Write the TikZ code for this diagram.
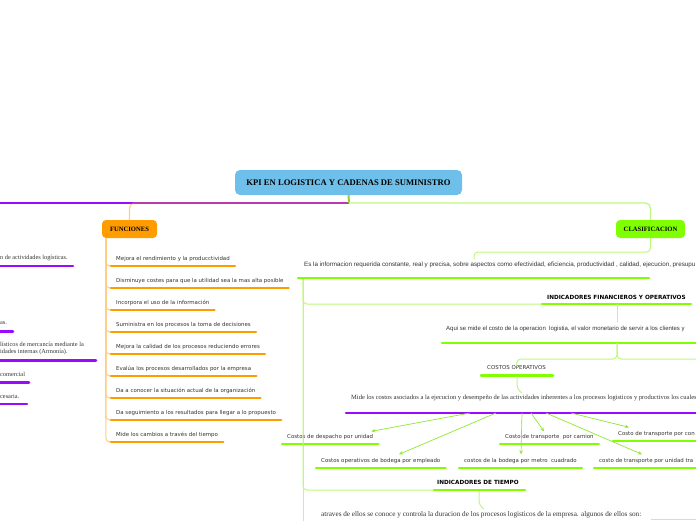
\documentclass[tikz,border=0pt]{standalone}
\usepackage{fontspec}
\setmainfont{Liberation Serif}
\newfontfamily\vfont{DejaVu Sans}
\newfontfamily\afont{Liberation Sans}
\usetikzlibrary{arrows.meta,calc}
\definecolor{tblue}{HTML}{6EC0EA}
\definecolor{forange}{HTML}{FF9D00}
\definecolor{cgreen}{HTML}{80FF00}
\definecolor{lgreen}{HTML}{BDFA7A}
\definecolor{agreen}{HTML}{8CEB2D}
\definecolor{olivegreen}{HTML}{9ACD32}
\definecolor{cpurple}{HTML}{9A0AFF}
\definecolor{txt}{HTML}{333333}
\begin{document}
\begin{tikzpicture}[x=1pt,y=-1pt,
  every node/.style={inner sep=0pt, text=txt},
  vt/.style={font=\vfont\fontsize{5.45}{6.5}\selectfont},
  atx/.style={font=\afont\fontsize{6.25}{7}\selectfont},
  st/.style={font=\fontsize{6.3}{7}\selectfont},
  bt/.style={font=\vfont\bfseries\fontsize{5.7}{6.5}\selectfont, text=black},
  sub/.style={vt, anchor=south west, inner xsep=5pt, inner ysep=4.5pt, text height=3.8pt, text depth=1pt},
  mainbox/.style={rounded corners=4pt, font=\bfseries\fontsize{6.6}{8}\selectfont, text=black, minimum height=18pt},
  ulo/.style={forange, line width=2.5pt, line cap=round},
  ulg/.style={cgreen, line width=2.5pt, line cap=round},
  ulp/.style={cpurple, line width=2.5pt, line cap=round},
  co/.style={forange!50, line width=1pt, rounded corners=4pt},
  cg/.style={lgreen, line width=1pt, rounded corners=4pt},
  arr/.style={agreen, line width=0.7pt, -{Stealth[length=4pt,width=3.5pt]}}
]
\useasboundingbox (0,0) rectangle (696,520);
\fill[white] (0,0) rectangle (696,520);
\clip (0,0) rectangle (696,520);

% main nodes
\node[fill=tblue, rounded corners=5pt, minimum width=227pt, minimum height=25pt,
      font=\bfseries\fontsize{8.6}{10}\selectfont, text=black] (kpi) at (348.5,182.5)
      {KPI EN LOGISTICA Y CADENAS DE SUMINISTRO};
\node[mainbox, fill=forange, minimum width=55pt] (fun) at (129.5,229) {FUNCIONES};
\node[mainbox, fill=cgreen, minimum width=69pt] (cla) at (650.5,229) {CLASIFICACION};

\coordinate (hub) at (349,203);
\coordinate (offl) at (-10,203);
\draw[cpurple, line width=1.2pt] (hub) -- (offl);
\draw[forange, opacity=0.5, line width=1.2pt, rounded corners=5pt] (hub) -| (fun.north);
\draw[olivegreen, line width=2pt] (kpi.south) -- (hub);
\draw[lgreen, line width=1.2pt, rounded corners=5pt] (hub) -| (cla.north);

% left purple branch (cut at the edge)
\node[st, anchor=west] (l1) at (0,258) {n de actividades logísticas.};
\draw[ulp] (-5,266) -- (73,266);
\node[st, anchor=west] (l2) at (0,323.5) {as.};
\draw[ulp] (-5,331.5) -- (13,331.5);
\node[st, anchor=north west, align=left] (l3) at (0,342) {lísticos de mercancía mediante la\\idades internas (Armonía).};
\draw[ulp] (-5,360.5) -- (96,360.5);
\node[st, anchor=west] (l4) at (0,374.5) {comercial};
\draw[ulp] (-5,382.5) -- (29,382.5);
\node[st, anchor=west] (l5) at (0,396.5) {cesaria.};
\draw[ulp] (-5,404) -- (27,404);

% FUNCIONES children
\coordinate (fs) at ($(fun.south west)+(4,0)$);
\foreach \n/\y/\t in {
  f1/266/{Mejora el rendimiento y la producctividad},
  f2/288/{Disminuye costes para que la utilidad sea la mas alta posible},
  f3/310/{Incorpora el uso de la información},
  f4/332/{Suministra en los procesos la toma de decisiones},
  f5/354/{Mejora la calidad de los procesos reduciendo errores},
  f6/376/{Evalúa los procesos desarrollados por la empresa},
  f7/398/{Da a conocer la situación actual de la organización},
  f8/420/{Da seguimiento a los resultados para llegar a lo propuesto},
  f9/442/{Mide los cambios a través del tiempo}} {
  \node[sub] (\n) at (111,\y) {\t};
  \draw[co] (fs) |- (\n.south west);
  \draw[ulo] (\n.south west) -- (\n.south east);
}

% CLASIFICACION
\node[atx, anchor=west] (es) at (304,265) {Es la informacion requerida constante, real y precisa, sobre aspectos como efectividad, eficiencia, productividad , calidad, ejecucion, presupu};
\coordinate (esin) at (474,259);
\draw[cg] (cla.south) |- (474,252) -- (esin);
\coordinate (esl) at (298,278);
\coordinate (esr) at (649,278);
\draw[ulg] (esl) -- (esr);
\coordinate (sp0) at (303,279);
\coordinate (sp1) at (303,525);
\draw[cg] (sp0) -- (sp1);

% indicadores financieros
\node[bt, anchor=west] (ifin) at (547,297.5) {INDICADORES FINANCIEROS Y OPERATIVOS};
\coordinate (ifl) at (542,304);
\coordinate (ifr) at (691,304);
\draw[cg] (sp0) |- (ifl);
\draw[ulg] (ifl) -- (ifr);
\node[atx, anchor=west, font=\afont\fontsize{6.0}{7}\selectfont] (aq) at (446,329) {Aqui se mide el costo de la operacion \ logistia, el valor monetario de servir a los clientes y};
\coordinate (aqt) at (617,304);
\coordinate (aqb) at (617,322);
\draw[cg] (aqt) -- (aqb);
\coordinate (aql) at (442,343);
\coordinate (aqr) at (700,343);
\draw[ulg] (aql) -- (aqr);
\coordinate (aqd) at (617,343);
\coordinate (rr) at (700,359);
\draw[cg] (aqd) |- (rr);

% costos operativos
\node[vt, anchor=west] (cop) at (487,368) {COSTOS OPERATIVOS};
\draw[cg] (aqd) |- (517,359) -- (cop.north);
\coordinate (copl) at (481,375.5);
\coordinate (copr) at (553,375.5);
\draw[ulg] (copl) -- (copr);
\node[st, anchor=west, font=\fontsize{6.5}{7}\selectfont] (mide) at (351,398) {Mide los costos asociados a la ejecucion y desempeño de las actividades inherentes a los procesos logisticos y productivos los cuales};
\coordinate (copm) at (517,376);
\draw[cg] (copm) -- (517,389) -- (522,393);
\coordinate (ml) at (346,413);
\coordinate (mr) at (700,413);
\draw[ulp] (ml) -- (mr);

% cost children
\node[sub] (c1) at (282,444) {Costos de despacho por unidad};
\draw[ulg] (c1.south west) -- (c1.south east);
\node[sub] (c2) at (316,468) {Costos operativos de bodega por empleado};
\draw[ulg] (c2.south west) -- (c2.south east);
\node[sub] (c3) at (459,468) {costos de la bodega por metro \ cuadrado};
\draw[ulg] (c3.south west) -- (c3.south east);
\node[sub] (c4) at (500,444) {Costo de transporte \ por camion};
\draw[ulg] (c4.south west) -- (c4.south east);
\node[sub] (c5) at (613,441) {Costo de transporte por con};
\draw[ulg] (c5.south west) -- (700,441);
\node[sub] (c6) at (594,468) {costo de transporte por unidad tra};
\draw[ulg] (c6.south west) -- (700,468);

\coordinate (o1) at (470,413);
\coordinate (o2) at (496,413);
\coordinate (o3) at (522,413);
\coordinate (o4) at (531,413);
\coordinate (o5) at (546,413);
\coordinate (o6) at (571,413);
\draw[arr] (o1) -- ($(c1.north east)+(-7,1.5)$);
\draw[arr] (o2) -- ($(c2.north west)+(83,0.5)$);
\draw[arr] (o3) -- ($(c3.north west)+(62,0.5)$);
\draw[arr] (o4) -- ($(c4.north west)+(44,1.5)$);
\draw[arr] (o5) -- ($(c6.north west)+(48,0.5)$);
\draw[arr] (o6) -- ($(c5.north west)+(16,0.5)$);

% indicadores de tiempo
\node[bt, anchor=west] (itp) at (437,482) {INDICADORES DE TIEMPO};
\coordinate (itl) at (434,490);
\coordinate (itr) at (525,490);
\draw[cg] (sp0) |- (itl);
\draw[ulg] (itl) -- (itr);
\node[st, anchor=west, font=\fontsize{7.2}{8}\selectfont] (atr) at (321,515) {atraves de ellos se conoce y controla la duracion de los procesos logisticos de la empresa. algunos de ellos son:};
\coordinate (itm) at (479,491);
\draw[cg] (itm) -- (479,505) -- (484,509);
\coordinate (bl) at (651,519.5);
\coordinate (br) at (700,519.5);
\draw[lgreen, line width=1pt] (bl) -- (br);
\end{tikzpicture}
\end{document}
